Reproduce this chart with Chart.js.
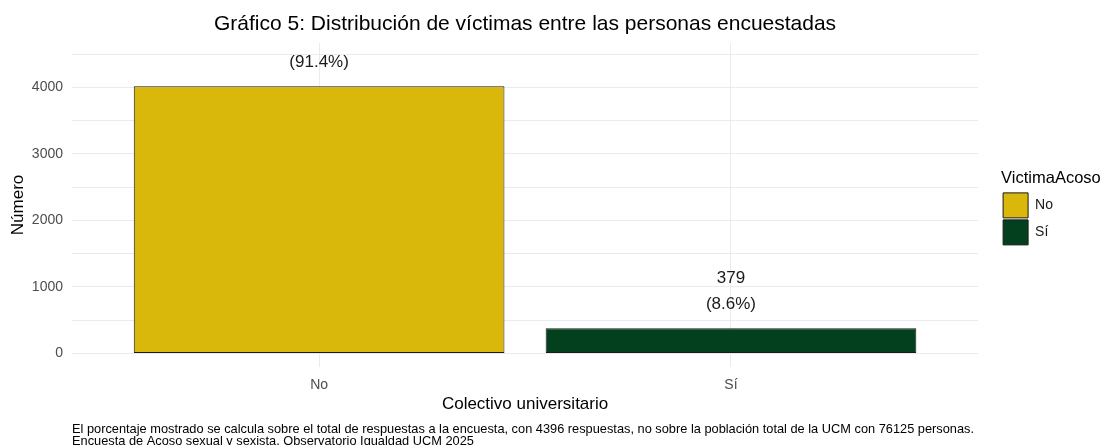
<!DOCTYPE html>
<html lang="es">
<head>
<meta charset="utf-8">
<title>Gráfico 5</title>
<script src="https://cdn.jsdelivr.net/npm/chart.js@4.4.1/dist/chart.umd.min.js"></script>
<style>
  html, body { margin: 0; padding: 0; background: #fff; overflow: hidden; }
  #wrap { width: 1109px; height: 450px; position: relative; }
</style>
</head>
<body>
<div id="wrap"><canvas id="victimasChart"></canvas></div>
<script>
// datos
const categories = ['No', 'Sí'];
const counts = [4017, 379];
const percents = [91.4, 8.6];
const yTicks = [0, 1000, 2000, 3000, 4000];
const yMinorTicks = [500, 1500, 2500, 3500, 4500];
const barColors = ['#D9B70B', '#03401D'];
const captionLines = [
  'El porcentaje mostrado se calcula sobre el total de respuestas a la encuesta, con 4396 respuestas, no sobre la población total de la UCM con 76125 personas.',
  'Encuesta de Acoso sexual y sexista. Observatorio Igualdad UCM 2025',
];

Chart.defaults.font.family = "'Liberation Sans', Arial, sans-serif";

// etiquetas encima de cada barra (recortadas al panel, como en ggplot)
const barLabels = {
  id: 'barLabels',
  afterDatasetsDraw(chart) {
    const { ctx, chartArea } = chart;
    ctx.save();
    ctx.beginPath();
    ctx.rect(chartArea.left, chartArea.top, chartArea.width, chartArea.height);
    ctx.clip();
    ctx.font = "17px 'Liberation Sans', Arial, sans-serif";
    ctx.fillStyle = '#1a1a1a';
    ctx.textAlign = 'center';
    ctx.textBaseline = 'middle';
    chart.data.datasets.forEach((ds, i) => {
      const bar = chart.getDatasetMeta(i).data[0];
      ctx.fillText(String(counts[i]), bar.x, bar.y - 50);
      ctx.fillText('(' + percents[i].toFixed(1) + '%)', bar.x, bar.y - 24);
    });
    ctx.restore();
  }
};

// la leyenda recorta su título al ancho de las cajas: le damos hasta el borde
const legendRoom = {
  id: 'legendRoom',
  afterLayout(chart) {
    const lg = chart.legend;
    if (!lg) return;
    lg.right = chart.width;
    lg.width = lg.right - lg.left;
  }
};

const ctx = document.getElementById('victimasChart');

new Chart(ctx, {
  type: 'bar',
  data: {
    datasets: categories.map((cat, i) => ({
      label: cat,
      data: [{ x: i + 1, y: counts[i] }],
      backgroundColor: barColors[i],
      borderColor: '#1a1a1a',
      borderWidth: 1,
      borderSkipped: false,
      grouped: false,
      categoryPercentage: 1,
      barPercentage: 0.9,
    })),
  },
  options: {
    responsive: true,
    maintainAspectRatio: false,
    animation: false,
    devicePixelRatio: 1,
    layout: { padding: { left: 0, right: 46, top: 0, bottom: 0 } },
    plugins: {
      title: {
        display: true,
        text: 'Gráfico 5: Distribución de víctimas entre las personas encuestadas',
        fullSize: false,
        color: '#000',
        font: { size: 21, weight: 'normal' },
        padding: { top: 12, bottom: 5.8 },
      },
      subtitle: {
        display: true,
        position: 'bottom',
        align: 'start',
        fullSize: false,
        text: captionLines,
        color: '#000',
        font: { size: 12.8, lineHeight: 0.9 },
        padding: { top: 0, bottom: 3 },
      },
      legend: {
        position: 'right',
        align: 'center',
        fullSize: false,
        title: {
          display: true,
          text: 'VictimaAcoso',
          position: 'start',
          color: '#000',
          font: { size: 16.5 },
          padding: { top: 7, bottom: 1 },
        },
        labels: {
          boxWidth: 25,
          boxHeight: 25,
          padding: 2,
          color: '#1a1a1a',
          font: { size: 14 },
        },
      },
      tooltip: { enabled: false },
    },
    scales: {
      x: {
        type: 'linear',
        min: 0.4,
        max: 2.6,
        offset: false,
        afterBuildTicks: (s) => { s.ticks = categories.map((c, i) => ({ value: i + 1 })); },
        afterFit: (s) => { s.height = 57; },
        ticks: {
          callback: (v) => categories[Math.round(v) - 1],
          color: '#4d4d4d',
          font: { size: 14 },
          padding: 10,
          autoSkip: false,
          maxRotation: 0,
        },
        grid: { color: '#ebebeb', drawTicks: false, offset: false },
        border: { display: false },
        title: {
          display: true,
          text: 'Colectivo universitario',
          color: '#000',
          font: { size: 17 },
          padding: { top: 0, bottom: 9 },
        },
      },
      y: {
        min: -203,
        max: 4666,
        afterBuildTicks: (s) => {
          s.ticks = yTicks.concat(yMinorTicks).sort((a, b) => a - b).map((v) => ({ value: v }));
        },
        afterFit: (s) => { s.width = 72; },
        ticks: {
          callback: (v) => (yTicks.includes(v) ? String(v) : ''),
          color: '#4d4d4d',
          font: { size: 14 },
          padding: 9,
        },
        grid: { color: '#ebebeb', drawTicks: false },
        border: { display: false },
        title: {
          display: true,
          text: 'Número',
          color: '#000',
          font: { size: 17 },
          padding: { top: 8, bottom: 0 },
        },
      },
      // hueco entre el panel y la leyenda
      spacer: {
        type: 'linear',
        position: 'right',
        display: true,
        afterFit: (s) => { s.width = 23; },
        ticks: { display: false },
        grid: { display: false },
        border: { display: false },
      },
    },
  },
  plugins: [barLabels, legendRoom],
});
</script>
</body>
</html>
